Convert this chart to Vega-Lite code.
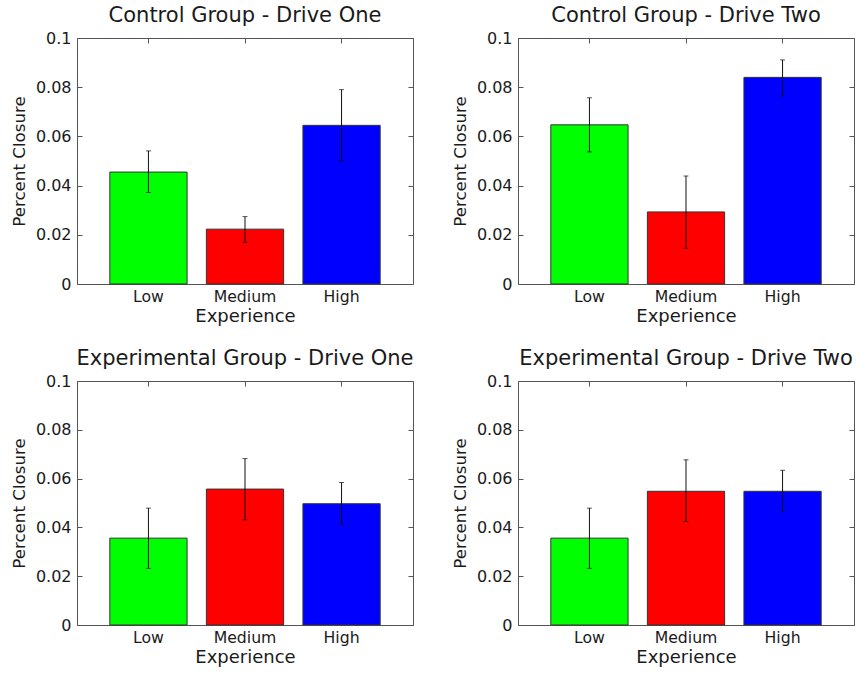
{
  "$schema": "https://vega.github.io/schema/vega-lite/v6.json",
  "padding": {"left": 10, "top": 4, "right": 0, "bottom": 0},
  "background": "white",
  "data": {"values": [
    {"panel": "Control Group - Drive One", "exp": "Low", "value": 0.0455, "lo": 0.0372, "hi": 0.0541},
    {"panel": "Control Group - Drive One", "exp": "Medium", "value": 0.0223, "lo": 0.0169, "hi": 0.0274},
    {"panel": "Control Group - Drive One", "exp": "High", "value": 0.0645, "lo": 0.0500, "hi": 0.0790},
    {"panel": "Control Group - Drive Two", "exp": "Low", "value": 0.0647, "lo": 0.0537, "hi": 0.0757},
    {"panel": "Control Group - Drive Two", "exp": "Medium", "value": 0.0293, "lo": 0.0145, "hi": 0.0439},
    {"panel": "Control Group - Drive Two", "exp": "High", "value": 0.0840, "lo": 0.0764, "hi": 0.0911},
    {"panel": "Experimental Group - Drive One", "exp": "Low", "value": 0.0356, "lo": 0.0232, "hi": 0.0479},
    {"panel": "Experimental Group - Drive One", "exp": "Medium", "value": 0.0557, "lo": 0.0431, "hi": 0.0682},
    {"panel": "Experimental Group - Drive One", "exp": "High", "value": 0.0497, "lo": 0.0413, "hi": 0.0584},
    {"panel": "Experimental Group - Drive Two", "exp": "Low", "value": 0.0356, "lo": 0.0232, "hi": 0.0479},
    {"panel": "Experimental Group - Drive Two", "exp": "Medium", "value": 0.0548, "lo": 0.0424, "hi": 0.0677},
    {"panel": "Experimental Group - Drive Two", "exp": "High", "value": 0.0548, "lo": 0.0464, "hi": 0.0634}
  ]},
  "columns": 2,
  "spacing": {"column": 37, "row": 20},
  "concat": [
    {
      "title": "Control Group - Drive One",
      "width": 336, "height": 246,
      "transform": [{"filter": "datum.panel === 'Control Group - Drive One'"}],
      "resolve": {"axis": {"x": "independent", "y": "independent"}},
      "layer": [
        {"mark": {"type": "bar", "stroke": "#333333", "strokeWidth": 1},
         "encoding": {
           "x": {"field": "exp", "type": "nominal", "sort": ["Low", "Medium", "High"], "scale": {"paddingInner": 0.2, "paddingOuter": 0.34}, "axis": {"orient": "bottom", "title": "Experience", "ticks": false, "labelPadding": 5}},
           "y": {"field": "value", "type": "quantitative", "scale": {"domain": [0, 0.1], "nice": false}, "axis": {"orient": "left", "title": "Percent Closure", "values": [0, 0.02, 0.04, 0.06, 0.08, 0.1], "format": "~g", "tickSize": -5, "labelPadding": 11}},
           "color": {"field": "exp", "type": "nominal", "scale": {"domain": ["Low", "Medium", "High"], "range": ["#00ff00", "#ff0000", "#0000ff"]}, "legend": null}
         }},
        {"mark": {"type": "rule", "color": "#111111", "strokeWidth": 1},
         "encoding": {
           "x": {"field": "exp", "type": "nominal", "sort": ["Low", "Medium", "High"], "axis": {"orient": "top", "title": null, "labels": false, "domain": false, "tickSize": -5}},
           "y": {"field": "lo", "type": "quantitative", "axis": {"orient": "right", "title": null, "labels": false, "domain": false, "values": [0, 0.02, 0.04, 0.06, 0.08, 0.1], "tickSize": -5}},
           "y2": {"field": "hi"}
         }},
        {"mark": {"type": "tick", "color": "#111111", "size": 5, "thickness": 1},
         "encoding": {"x": {"field": "exp", "type": "nominal", "sort": ["Low", "Medium", "High"], "axis": null}, "y": {"field": "lo", "type": "quantitative", "axis": null}}},
        {"mark": {"type": "tick", "color": "#111111", "size": 5, "thickness": 1},
         "encoding": {"x": {"field": "exp", "type": "nominal", "sort": ["Low", "Medium", "High"], "axis": null}, "y": {"field": "hi", "type": "quantitative", "axis": null}}}
      ]
    },
    {
      "title": "Control Group - Drive Two",
      "width": 336, "height": 246,
      "transform": [{"filter": "datum.panel === 'Control Group - Drive Two'"}],
      "resolve": {"axis": {"x": "independent", "y": "independent"}},
      "layer": [
        {"mark": {"type": "bar", "stroke": "#333333", "strokeWidth": 1},
         "encoding": {
           "x": {"field": "exp", "type": "nominal", "sort": ["Low", "Medium", "High"], "scale": {"paddingInner": 0.2, "paddingOuter": 0.34}, "axis": {"orient": "bottom", "title": "Experience", "ticks": false, "labelPadding": 5}},
           "y": {"field": "value", "type": "quantitative", "scale": {"domain": [0, 0.1], "nice": false}, "axis": {"orient": "left", "title": "Percent Closure", "values": [0, 0.02, 0.04, 0.06, 0.08, 0.1], "format": "~g", "tickSize": -5, "labelPadding": 11}},
           "color": {"field": "exp", "type": "nominal", "scale": {"domain": ["Low", "Medium", "High"], "range": ["#00ff00", "#ff0000", "#0000ff"]}, "legend": null}
         }},
        {"mark": {"type": "rule", "color": "#111111", "strokeWidth": 1},
         "encoding": {
           "x": {"field": "exp", "type": "nominal", "sort": ["Low", "Medium", "High"], "axis": {"orient": "top", "title": null, "labels": false, "domain": false, "tickSize": -5}},
           "y": {"field": "lo", "type": "quantitative", "axis": {"orient": "right", "title": null, "labels": false, "domain": false, "values": [0, 0.02, 0.04, 0.06, 0.08, 0.1], "tickSize": -5}},
           "y2": {"field": "hi"}
         }},
        {"mark": {"type": "tick", "color": "#111111", "size": 5, "thickness": 1},
         "encoding": {"x": {"field": "exp", "type": "nominal", "sort": ["Low", "Medium", "High"], "axis": null}, "y": {"field": "lo", "type": "quantitative", "axis": null}}},
        {"mark": {"type": "tick", "color": "#111111", "size": 5, "thickness": 1},
         "encoding": {"x": {"field": "exp", "type": "nominal", "sort": ["Low", "Medium", "High"], "axis": null}, "y": {"field": "hi", "type": "quantitative", "axis": null}}}
      ]
    },
    {
      "title": "Experimental Group - Drive One",
      "width": 336, "height": 244,
      "transform": [{"filter": "datum.panel === 'Experimental Group - Drive One'"}],
      "resolve": {"axis": {"x": "independent", "y": "independent"}},
      "layer": [
        {"mark": {"type": "bar", "stroke": "#333333", "strokeWidth": 1},
         "encoding": {
           "x": {"field": "exp", "type": "nominal", "sort": ["Low", "Medium", "High"], "scale": {"paddingInner": 0.2, "paddingOuter": 0.34}, "axis": {"orient": "bottom", "title": "Experience", "ticks": false, "labelPadding": 5}},
           "y": {"field": "value", "type": "quantitative", "scale": {"domain": [0, 0.1], "nice": false}, "axis": {"orient": "left", "title": "Percent Closure", "values": [0, 0.02, 0.04, 0.06, 0.08, 0.1], "format": "~g", "tickSize": -5, "labelPadding": 11}},
           "color": {"field": "exp", "type": "nominal", "scale": {"domain": ["Low", "Medium", "High"], "range": ["#00ff00", "#ff0000", "#0000ff"]}, "legend": null}
         }},
        {"mark": {"type": "rule", "color": "#111111", "strokeWidth": 1},
         "encoding": {
           "x": {"field": "exp", "type": "nominal", "sort": ["Low", "Medium", "High"], "axis": {"orient": "top", "title": null, "labels": false, "domain": false, "tickSize": -5}},
           "y": {"field": "lo", "type": "quantitative", "axis": {"orient": "right", "title": null, "labels": false, "domain": false, "values": [0, 0.02, 0.04, 0.06, 0.08, 0.1], "tickSize": -5}},
           "y2": {"field": "hi"}
         }},
        {"mark": {"type": "tick", "color": "#111111", "size": 5, "thickness": 1},
         "encoding": {"x": {"field": "exp", "type": "nominal", "sort": ["Low", "Medium", "High"], "axis": null}, "y": {"field": "lo", "type": "quantitative", "axis": null}}},
        {"mark": {"type": "tick", "color": "#111111", "size": 5, "thickness": 1},
         "encoding": {"x": {"field": "exp", "type": "nominal", "sort": ["Low", "Medium", "High"], "axis": null}, "y": {"field": "hi", "type": "quantitative", "axis": null}}}
      ]
    },
    {
      "title": "Experimental Group - Drive Two",
      "width": 336, "height": 244,
      "transform": [{"filter": "datum.panel === 'Experimental Group - Drive Two'"}],
      "resolve": {"axis": {"x": "independent", "y": "independent"}},
      "layer": [
        {"mark": {"type": "bar", "stroke": "#333333", "strokeWidth": 1},
         "encoding": {
           "x": {"field": "exp", "type": "nominal", "sort": ["Low", "Medium", "High"], "scale": {"paddingInner": 0.2, "paddingOuter": 0.34}, "axis": {"orient": "bottom", "title": "Experience", "ticks": false, "labelPadding": 5}},
           "y": {"field": "value", "type": "quantitative", "scale": {"domain": [0, 0.1], "nice": false}, "axis": {"orient": "left", "title": "Percent Closure", "values": [0, 0.02, 0.04, 0.06, 0.08, 0.1], "format": "~g", "tickSize": -5, "labelPadding": 11}},
           "color": {"field": "exp", "type": "nominal", "scale": {"domain": ["Low", "Medium", "High"], "range": ["#00ff00", "#ff0000", "#0000ff"]}, "legend": null}
         }},
        {"mark": {"type": "rule", "color": "#111111", "strokeWidth": 1},
         "encoding": {
           "x": {"field": "exp", "type": "nominal", "sort": ["Low", "Medium", "High"], "axis": {"orient": "top", "title": null, "labels": false, "domain": false, "tickSize": -5}},
           "y": {"field": "lo", "type": "quantitative", "axis": {"orient": "right", "title": null, "labels": false, "domain": false, "values": [0, 0.02, 0.04, 0.06, 0.08, 0.1], "tickSize": -5}},
           "y2": {"field": "hi"}
         }},
        {"mark": {"type": "tick", "color": "#111111", "size": 5, "thickness": 1},
         "encoding": {"x": {"field": "exp", "type": "nominal", "sort": ["Low", "Medium", "High"], "axis": null}, "y": {"field": "lo", "type": "quantitative", "axis": null}}},
        {"mark": {"type": "tick", "color": "#111111", "size": 5, "thickness": 1},
         "encoding": {"x": {"field": "exp", "type": "nominal", "sort": ["Low", "Medium", "High"], "axis": null}, "y": {"field": "hi", "type": "quantitative", "axis": null}}}
      ]
    }
  ],
  "config": {
    "font": "DejaVu Sans",
    "view": {"stroke": "#555555", "strokeWidth": 1},
    "title": {"fontSize": 21, "fontWeight": "normal", "color": "#1a1a1a", "frame": "group", "anchor": "middle", "offset": 4},
    "axis": {"grid": false, "domain": false, "tickColor": "#555555", "labelColor": "#1a1a1a", "titleColor": "#1a1a1a", "titleFontWeight": "normal", "labelAngle": 0},
    "axisX": {"labelFontSize": 15.7, "titleFontSize": 18, "titlePadding": 4},
    "axisY": {"labelFontSize": 16, "titleFontSize": 16.7, "titlePadding": 7}
  }
}
